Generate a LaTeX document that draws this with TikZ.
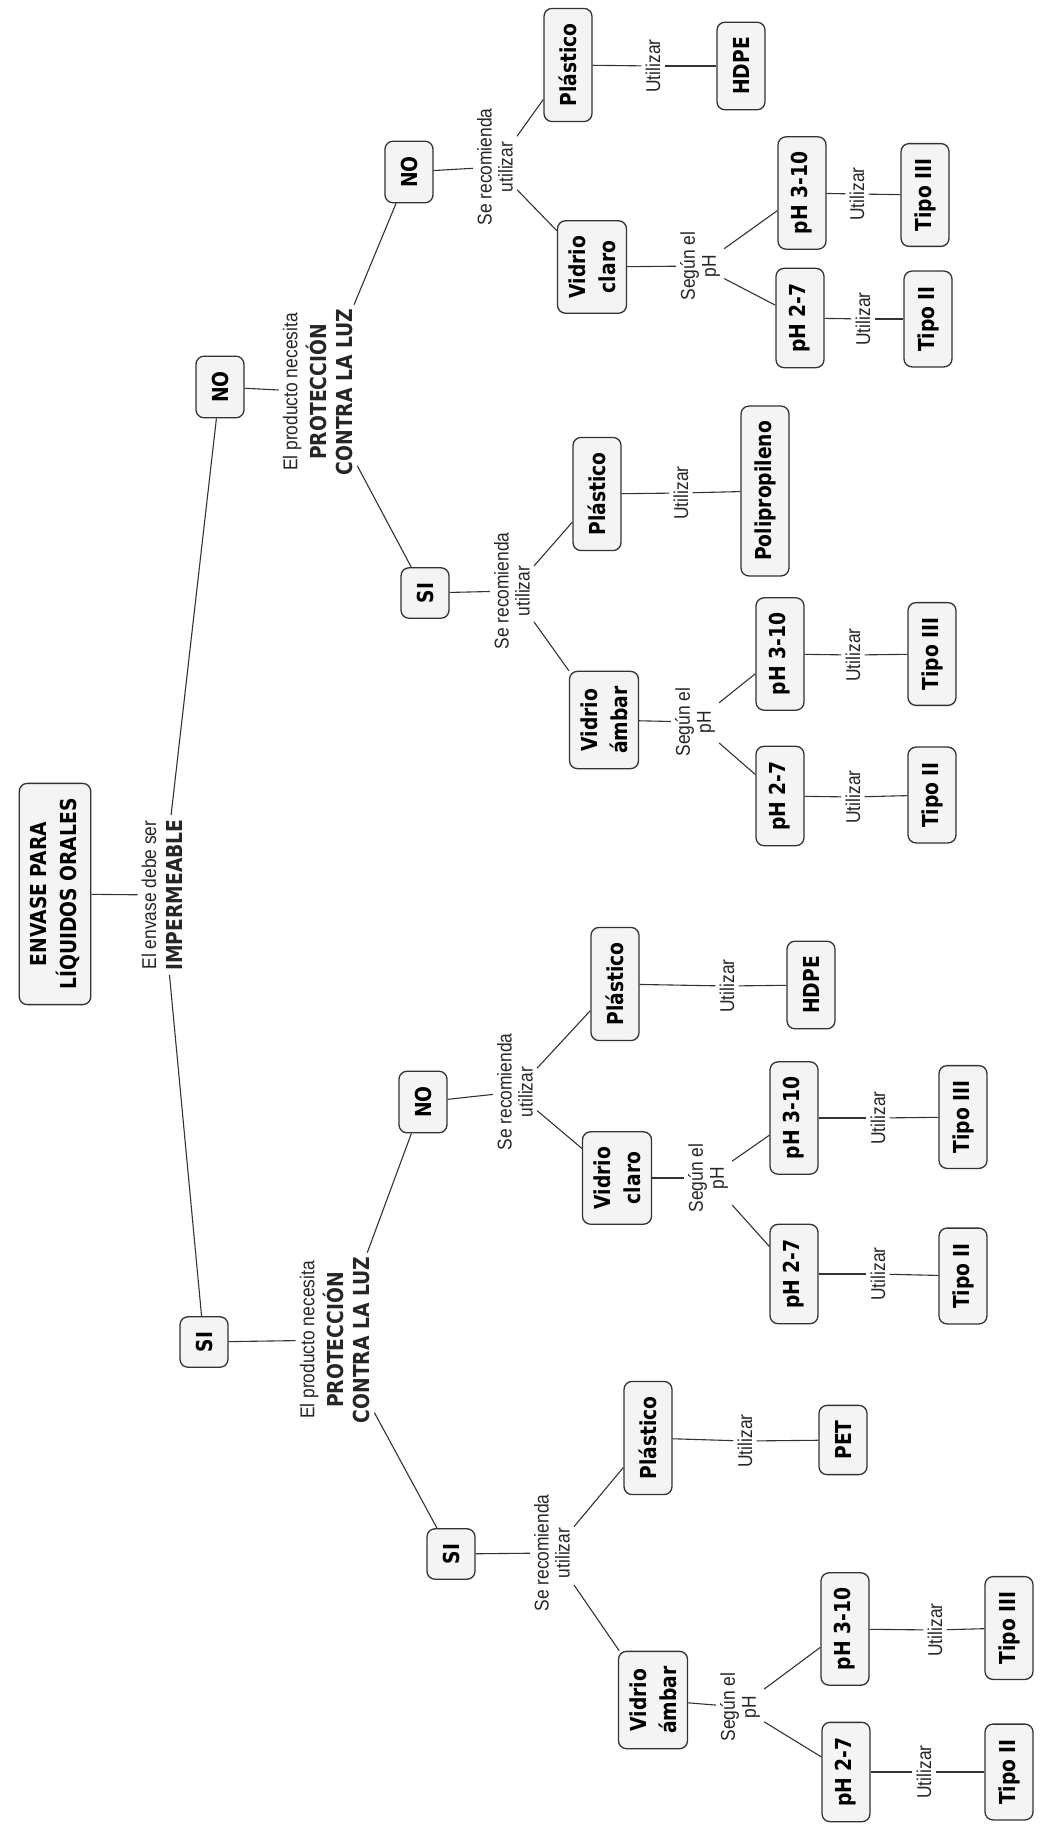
\documentclass[tikz,border=0pt]{standalone}
\usepackage{fontspec}
\newfontfamily\nodefont{DejaVu Sans}[FakeStretch=0.85]
\newfontfamily\labfont{Liberation Sans}[FakeStretch=0.87]
\begin{document}
\begin{tikzpicture}[x=1pt,y=-1pt,
  box/.style={draw=black!80, line width=1.3pt, fill=gray!9, rounded corners=8pt, rotate=90,
    font=\nodefont\bfseries\fontsize{22}{30}\selectfont, align=center,
    inner xsep=15pt, inner ysep=11pt, minimum height=48pt, minimum width=50pt},
  lbl/.style={rotate=90, align=center, inner sep=4pt, text=black!85,
    font=\labfont\fontsize{20}{21}\selectfont},
  conn/.style={draw=black!80, line width=1.1pt}]
\newcommand\bl[1]{{\nodefont\bfseries\fontsize{22}{27}\selectfont #1}}
\fill[white] (0,0) rectangle (1047,1828);
\useasboundingbox (0,0) rectangle (1047,1828);

% upper levels
\node[box] (root) at (55,894) {ENVASE PARA\\LÍQUIDOS ORALES};
\node[lbl] (lA) at (162,895) {El envase debe ser\\[5pt]\bl{IMPERMEABLE}};
\node[box] (no1) at (220,387) {NO};
\node[box] (si1) at (204,1342) {SI};
\node[lbl] (lB) at (318,392) {El producto necesita\\[4pt]\bl{PROTECCIÓN}\\[5pt]\bl{CONTRA LA LUZ}};
\node[lbl] (lC) at (335,1340) {El producto necesita\\[4pt]\bl{PROTECCIÓN}\\[5pt]\bl{CONTRA LA LUZ}};
\node[box] (no2) at (409,172) {NO};
\node[box] (si2) at (425,593) {SI};
\node[box] (no3) at (423,1102) {NO};
\node[box] (si3) at (451,1554) {SI};

% branch a (NO / NO)
\node[lbl] (aL) at (495,167) {Se recomienda\\utilizar};
\node[box] (aP) at (568,65) {Plástico};
\node[lbl] (aPU) at (653,66) {Utilizar};
\node[box] (aPX) at (741,66) {HDPE};
\node[box] (aV) at (592,267) {Vidrio\\claro};
\node[lbl] (aS) at (700,266) {Según el\\pH};
\node[box] (a3) at (802,193) {pH 3-10};
\node[lbl] (a3U) at (857,194) {Utilizar};
\node[box] (a3T) at (925,195) {Tipo III};
\node[box] (a2) at (800,318) {pH 2-7};
\node[lbl] (a2U) at (863,319) {Utilizar};
\node[box] (a2T) at (928,319) {Tipo II};

% branch b (NO / SI)
\node[lbl] (bL) at (512,591) {Se recomienda\\utilizar};
\node[box] (bP) at (597,494) {Plástico};
\node[lbl] (bPU) at (681,493) {Utilizar};
\node[box] (bPX) at (765,491) {Polipropileno};
\node[box] (bV) at (604,720) {Vidrio\\ámbar};
\node[lbl] (bS) at (695,722) {Según el\\pH};
\node[box] (b3) at (780,654) {pH 3-10};
\node[lbl] (b3U) at (853,655) {Utilizar};
\node[box] (b3T) at (932,654) {Tipo III};
\node[box] (b2) at (780,796) {pH 2-7};
\node[lbl] (b2U) at (853,797) {Utilizar};
\node[box] (b2T) at (932,795) {Tipo II};

% branch c (SI / NO)
\node[lbl] (cL) at (515,1092) {Se recomienda\\utilizar};
\node[box] (cP) at (615,984) {Plástico};
\node[lbl] (cPU) at (727,986) {Utilizar};
\node[box] (cPX) at (811,985) {HDPE};
\node[box] (cV) at (617,1178) {Vidrio\\claro};
\node[lbl] (cS) at (708,1178) {Según el\\pH};
\node[box] (c3) at (794,1118) {pH 3-10};
\node[lbl] (c3U) at (878,1118) {Utilizar};
\node[box] (c3T) at (963,1117) {Tipo III};
\node[box] (c2) at (794,1274) {pH 2-7};
\node[lbl] (c2U) at (878,1274) {Utilizar};
\node[box] (c2T) at (963,1276) {Tipo II};

% branch d (SI / SI)
\node[lbl] (dL) at (552,1553) {Se recomienda\\utilizar};
\node[box] (dP) at (648,1438) {Plástico};
\node[lbl] (dPU) at (745,1441) {Utilizar};
\node[box] (dPX) at (843,1440) {PET};
\node[box] (dV) at (653,1700) {Vidrio\\ámbar};
\node[lbl] (dS) at (740,1707) {Según el\\pH};
\node[box] (d3) at (845,1629) {pH 3-10};
\node[lbl] (d3U) at (935,1630) {Utilizar};
\node[box] (d3T) at (1009,1628) {Tipo III};
\node[box] (d2) at (846,1772) {pH 2-7};
\node[lbl] (d2U) at (924,1772) {Utilizar};
\node[box] (d2T) at (1009,1772) {Tipo II};

% connectors
\draw[conn] (root) -- (lA);
\draw[conn] (lA) -- (no1);
\draw[conn] (lA) -- (si1);
\draw[conn] (no1) -- (lB);
\draw[conn] (lB) -- (no2);
\draw[conn] (lB) -- (si2);
\draw[conn] (si1) -- (lC);
\draw[conn] (lC) -- (no3);
\draw[conn] (lC) -- (si3);
\draw[conn] (no2) -- (aL);
\draw[conn] (si2) -- (bL);
\draw[conn] (no3) -- (cL);
\draw[conn] (si3) -- (dL);
\foreach \p in {a,b,c,d}{
  \draw[conn] (\p L) -- (\p P);
  \draw[conn] (\p L) -- (\p V);
  \draw[conn] (\p P) -- (\p PU);
  \draw[conn] (\p PU) -- (\p PX);
  \draw[conn] (\p V) -- (\p S);
  \draw[conn] (\p S) -- (\p 3);
  \draw[conn] (\p S) -- (\p 2);
  \draw[conn] (\p 3) -- (\p 3U);
  \draw[conn] (\p 3U) -- (\p 3T);
  \draw[conn] (\p 2) -- (\p 2U);
  \draw[conn] (\p 2U) -- (\p 2T);
}
\end{tikzpicture}
\end{document}
